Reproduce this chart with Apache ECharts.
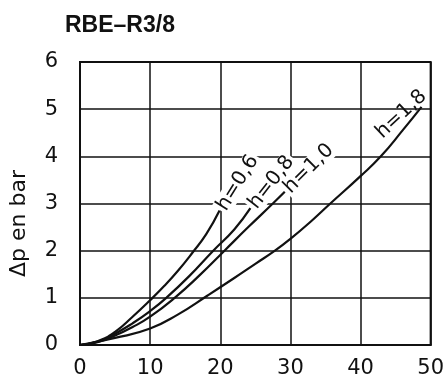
<!DOCTYPE html>
<html>
<head>
<meta charset="utf-8">
<script src="https://cdn.jsdelivr.net/npm/echarts@6/dist/echarts.min.js"></script>
<style>
  html, body { margin: 0; padding: 0; background: #fff; }
  #chart { width: 447px; height: 387px; }
</style>
</head>
<body>
<div id="chart"></div>
<script>
const h06 = [[0, 0], [2.5, 0.08], [5, 0.28], [7.5, 0.6], [10, 0.95], [12, 1.25], [14, 1.58], [16, 1.95], [18, 2.35], [19.9, 2.85]];
const h08 = [[0, 0], [2.5, 0.07], [5, 0.24], [7.5, 0.46], [10, 0.72], [12.3, 1.0], [15.5, 1.45], [19, 2.0], [22, 2.45], [24.3, 2.9]];
const h10 = [[0, 0], [2.5, 0.06], [5, 0.2], [7.5, 0.38], [10, 0.6], [13.5, 1.0], [17, 1.47], [20.6, 2.0], [24, 2.5], [27.5, 3.0], [29.2, 3.25]];
const h18 = [[0, 0], [5, 0.15], [10, 0.35], [14, 0.65], [18.2, 1.05], [22, 1.42], [25, 1.72], [27.8, 2.0], [30, 2.25], [33, 2.63], [35.7, 3.0], [40, 3.58], [42.9, 4.0], [46, 4.55], [48.7, 5.05]];

const curveNames = ['h=0,6', 'h=0,8', 'h=1,0', 'h=1,8'];
const curves = [h06, h08, h10, h18];
const labelAngles = [58, 52, 45, 43];

const xTicks = [0, 10, 20, 30, 40, 50];
const yTicks = [0, 1, 2, 3, 4, 5, 6];

const INK = '#111';

function makeSeries(name, data, i) {
    const last = data[data.length - 1];
    // h=1,8 : le texte est posé au-dessus de la fin de courbe, sans fond
    const endStyle = i === 3
        ? { align: 'right', verticalAlign: 'bottom', position: [9, -6] }
        : { align: 'left', verticalAlign: 'middle', position: [1, 0], backgroundColor: '#fff', padding: [0, 2] };
    return {
        name: name,
        type: 'line',
        data: data,
        smooth: true,
        symbol: 'none',
        lineStyle: { color: INK, width: 2.2 },
        z: 3,
        markPoint: {
            symbol: 'circle',
            symbolSize: 0,
            silent: true,
            data: [{ coord: last }],
            label: Object.assign({
                show: true,
                formatter: name,
                rotate: labelAngles[i],
                color: INK,
                fontFamily: 'DejaVu Sans',
                fontSize: 20
            }, endStyle)
        }
    };
}

const chart = echarts.init(document.getElementById('chart'));

chart.setOption({
    animation: false,
    backgroundColor: '#fff',
    title: {
        text: 'RBE–R3/8',
        left: 60,
        top: 9,
        textStyle: {
            fontFamily: 'Liberation Sans',
            fontWeight: 'bold',
            fontSize: 23,
            color: INK
        }
    },
    graphic: [{
        type: 'text',
        left: 8,
        top: 170,
        rotation: Math.PI / 2,
        style: {
            text: 'Δp en bar',
            font: '22px "DejaVu Sans"',
            fill: INK
        }
    }],
    grid: {
        left: 80,
        right: 10,
        top: 62,
        bottom: 42,
        show: true,
        borderColor: INK,
        borderWidth: 2,
        backgroundColor: '#fff'
    },
    xAxis: {
        type: 'value',
        min: xTicks[0],
        max: xTicks[xTicks.length - 1],
        interval: 10,
        axisLine: { show: true, lineStyle: { color: INK, width: 2 } },
        axisTick: { show: false },
        splitLine: { lineStyle: { color: INK, width: 1.5 } },
        axisLabel: {
            margin: 13,
            color: INK,
            fontFamily: 'DejaVu Sans',
            fontSize: 21,
            showMaxLabel: true
        }
    },
    yAxis: {
        type: 'value',
        min: yTicks[0],
        max: yTicks[yTicks.length - 1],
        interval: 1,
        axisLine: { show: true, lineStyle: { color: INK, width: 2 } },
        axisTick: { show: false },
        splitLine: { lineStyle: { color: INK, width: 1.5 } },
        axisLabel: {
            margin: 22,
            color: INK,
            fontFamily: 'DejaVu Sans',
            fontSize: 21
        }
    },
    series: curves.map((d, i) => makeSeries(curveNames[i], d, i))
});
</script>
</body>
</html>
